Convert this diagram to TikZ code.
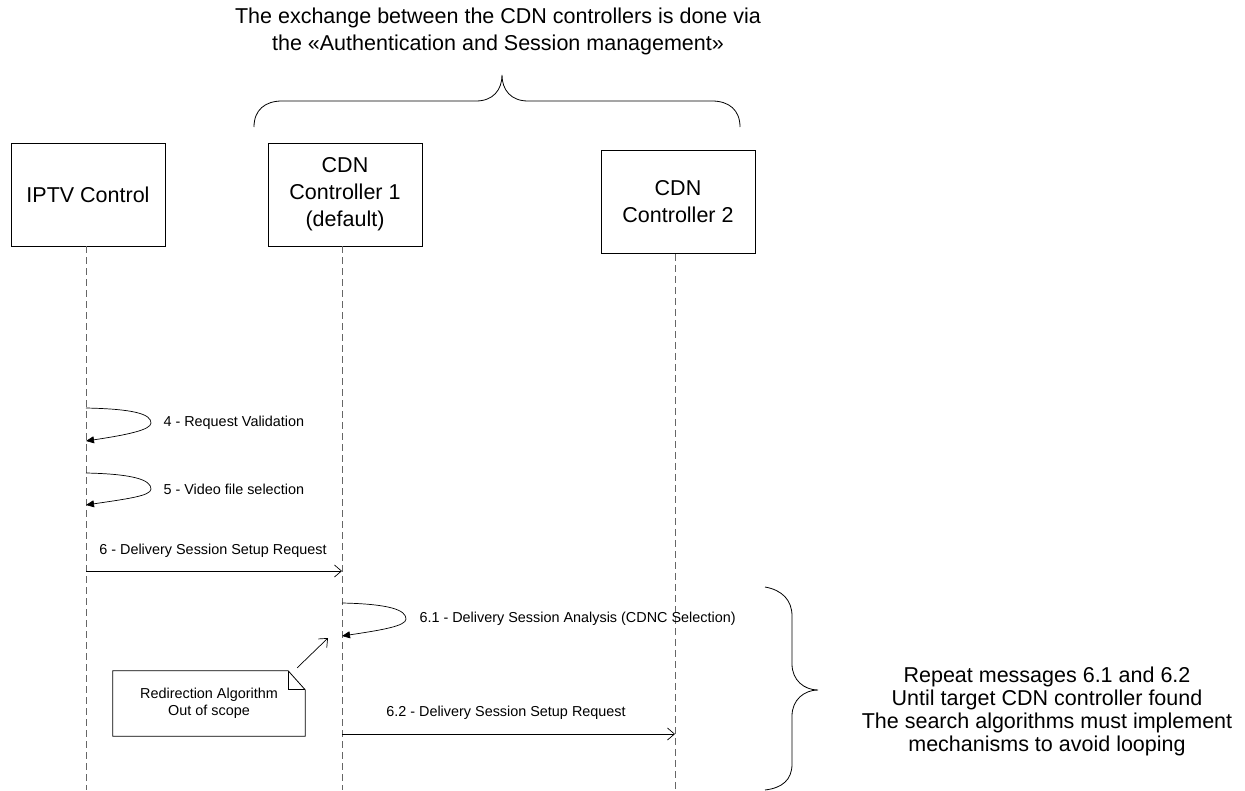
\documentclass[tikz,border=0pt]{standalone}
\usepackage{fontspec}
\setmainfont{Liberation Sans}
\usetikzlibrary{arrows.meta,calc}
\begin{document}
\begin{tikzpicture}[x=1pt,y=-1pt,
  big/.style={font=\fontsize{21.5}{27}\selectfont, align=center},
  small/.style={font=\fontsize{14.4}{17}\selectfont},
  actor/.style={draw, line width=0.9pt, minimum width=154pt, minimum height=103pt, big, inner sep=0pt},
  lifeline/.style={draw=black!60, line width=0.8pt, dash pattern=on 7pt off 4pt},
  msg/.style={line width=0.7pt, -{Straight Barb[length=7pt,width=12pt]}},
  selfmsg/.style={line width=0.7pt, -{Triangle[length=8pt,width=7pt]}},
  brace/.style={line width=0.8pt}]
\useasboundingbox (0,0) rectangle (1245,790);

% title above the controller brace
\node[big] (title) at (498,31.5) {The exchange between the CDN controllers is done via\\the «Authentication and Session management»};

% participants
\node[actor] (iptv) at (88,194.5) {IPTV Control};
\node[actor] (cdn1) at (345,194.5) {CDN\\Controller 1\\(default)};
\node[actor] (cdn2) at (678,202) {CDN\\Controller 2};

% lifelines (slightly left of the box centres)
\coordinate (iptvTop) at ($(iptv.south)+(-2,0)$);
\coordinate (cdn1Top) at ($(cdn1.south)+(-3,0)$);
\coordinate (cdn2Top) at ($(cdn2.south)+(-3,0)$);
\coordinate (iptvEnd) at (iptvTop |- 0,790);
\coordinate (cdn1End) at (cdn1Top |- 0,790);
\coordinate (cdn2End) at (cdn2Top |- 0,790);
\draw[lifeline] (iptvTop) -- (iptvEnd);
\draw[lifeline] (cdn1Top) -- (cdn1End);
\draw[lifeline] (cdn2Top) -- (cdn2End);

% brace over the two CDN controllers
\draw[brace] (254,127) .. controls (254,110) and (265,101) .. (282,101) -- (476,101)
  .. controls (493,101) and (502,90) .. (502,75)
  .. controls (502,90) and (511,101) .. (528,101) -- (712,101)
  .. controls (729,101) and (740,110) .. (740,127);

% message anchor points on the lifelines
\coordinate (l4a) at (iptvTop |- 0,408);
\coordinate (l4o) at (151,423);
\coordinate (l4b) at (iptvTop |- 0,441);
\coordinate (l5a) at (iptvTop |- 0,473);
\coordinate (l5o) at (151,489);
\coordinate (l5b) at (iptvTop |- 0,505);
\coordinate (m6a) at (iptvTop |- 0,571);
\coordinate (m6b) at (cdn1Top |- 0,571);
\coordinate (l61a) at (cdn1Top |- 0,603);
\coordinate (l61o) at (406,619);
\coordinate (l61b) at (cdn1Top |- 0,636);
\coordinate (m62a) at (cdn1Top |- 0,734);
\coordinate (m62b) at (cdn2Top |- 0,734);

% 4 - self message
\draw[selfmsg] (l4a) .. controls ($(l4a)+(48,1)$) and ($(l4o)+(0,-9)$) .. (l4o)
  .. controls ($(l4o)+(0,7)$) and ($(l4b)+(40,-6)$) .. (l4b);
\node[small, anchor=west] (t4) at (160,423) {4 - Request Validation};

% 5 - self message
\draw[selfmsg] (l5a) .. controls ($(l5a)+(48,1)$) and ($(l5o)+(0,-9)$) .. (l5o)
  .. controls ($(l5o)+(0,7)$) and ($(l5b)+(40,-6)$) .. (l5b);
\node[small, anchor=west] (t5) at (160,489) {5 - Video file selection};

% 6 - request to the default controller
\draw[msg] (m6a) -- (m6b);
\node[small] (t6) at (213,551) {6 - Delivery Session Setup Request};

% 6.1 - self message
\draw[selfmsg] (l61a) .. controls ($(l61a)+(48,1)$) and ($(l61o)+(0,-9)$) .. (l61o)
  .. controls ($(l61o)+(0,7)$) and ($(l61b)+(40,-6)$) .. (l61b);
\node[small, anchor=west] (t61) at (416,619) {6.1 - Delivery Session Analysis (CDNC Selection)};

% 6.2 - forwarded request
\draw[msg] (m62a) -- (m62b);
\node[small] (t62) at (506,713) {6.2 - Delivery Session Setup Request};

% note with folded corner
\node[small, align=center, minimum width=192pt, minimum height=65pt, inner sep=0pt] (note) at (209,703.5) {Redirection Algorithm\\Out of scope};
\draw[line width=0.8pt] (note.north west) -- ($(note.north east)+(-17,0)$) -- ($(note.north east)+(0,19)$)
  -- (note.south east) -- (note.south west) -- cycle;
\draw[line width=0.8pt] ($(note.north east)+(-17,0)$) -- ($(note.north east)+(-17,19)$) -- ($(note.north east)+(0,19)$);
\coordinate (noteTip) at (328,638);
\draw[msg] ($(note.north east)+(-8,-3)$) -- (noteTip);

% brace on the right for the repeated messages
\draw[brace] (765,587) .. controls (782,590) and (792,600) .. (792,616) -- (792,664)
  .. controls (792,680) and (804,690) .. (818,690)
  .. controls (804,690) and (792,700) .. (792,716) -- (792,764)
  .. controls (792,780) and (782,788) .. (765,790);
\node[big, font=\fontsize{21.5}{23}\selectfont] (repeat) at (1047,711) {Repeat messages 6.1 and 6.2\\Until target CDN controller found\\The search algorithms must implement\\mechanisms to avoid looping};
\end{tikzpicture}
\end{document}
